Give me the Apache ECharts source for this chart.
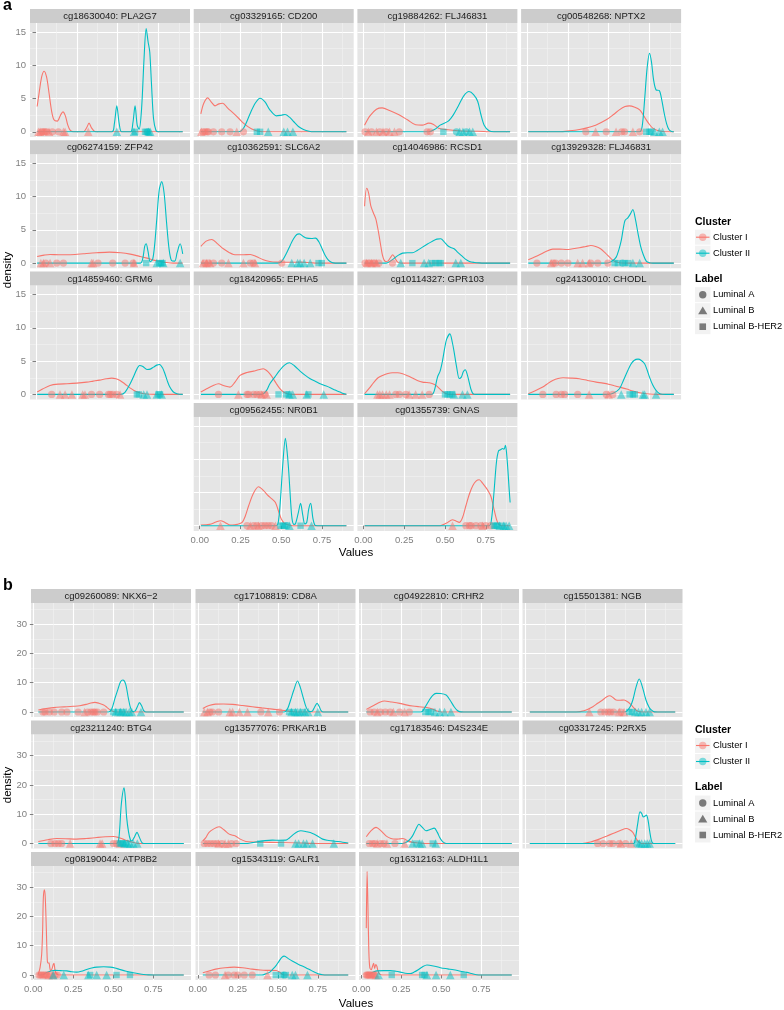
<!DOCTYPE html>
<html><head><meta charset="utf-8">
<script src="https://cdn.jsdelivr.net/npm/echarts@6/dist/echarts.min.js"></script>
<style>html,body{margin:0;padding:0;background:#fff}#c{width:784px;height:1010px}</style>
</head><body><div id="c"></div>
<script>
// ---------- DATA ----------
// shape codes: 0 = Luminal A (circle), 1 = Luminal B (triangle), 2 = Luminal B-HER2 (square)
const titlesA = ['cg18630040: PLA2G7','cg03329165: CD200','cg19884262: FLJ46831','cg00548268: NPTX2',
  'cg06274159: ZFP42','cg10362591: SLC6A2','cg14046986: RCSD1','cg13929328: FLJ46831',
  'cg14859460: GRM6','cg18420965: EPHA5','cg10114327: GPR103','cg24130010: CHODL',
  'cg09562455: NR0B1','cg01355739: GNAS'];
const titlesB = ['cg09260089: NKX6\u22122','cg17108819: CD8A','cg04922810: CRHR2','cg15501381: NGB',
  'cg23211240: BTG4','cg13577076: PRKAR1B','cg17183546: D4S234E','cg03317245: P2RX5',
  'cg08190044: ATP8B2','cg15343119: GALR1','cg16312163: ALDH1L1'];
const xTicks = [0, 0.25, 0.5, 0.75];
const xMinorTicks = [0.125, 0.375, 0.625, 0.875];
const yTicksA = [0, 5, 10, 15];
const yMinorTicksA = [2.5, 7.5, 12.5];
const yTicksB = [0, 10, 20, 30];
const yMinorTicksB = [5, 15, 25, 35];

const A01_I = [[0.007,3.8],[0.02,6],[0.035,8.3],[0.05,9.1],[0.065,8.2],[0.08,5.8],[0.095,3.2],[0.11,1.8],[0.13,1.6],[0.15,2.5],[0.165,3.0],[0.18,2.4],[0.195,1.0],[0.21,0.2],[0.23,0],[0.29,0],[0.31,0.6],[0.325,1.3],[0.34,0.6],[0.36,0.05],[0.38,0],[0.899,0]];
const A01_II = [[0.007,0],[0.465,0],[0.48,1.2],[0.495,3.9],[0.51,1.2],[0.525,0],[0.58,0],[0.594,1.4],[0.607,3.9],[0.62,1.0],[0.632,0.4],[0.647,3.5],[0.662,11],[0.675,15.5],[0.687,13.5],[0.697,12],[0.708,7],[0.72,2],[0.735,0.2],[0.75,0],[0.899,0]];
const A01_rugI = [[0.015,1],[0.025,1],[0.035,0],[0.045,0],[0.055,0],[0.065,0],[0.08,1],[0.1,0],[0.137,0],[0.168,1],[0.178,1],[0.32,1]];
const A01_rugII = [[0.495,1],[0.6,1],[0.607,2],[0.668,2],[0.678,2],[0.685,0],[0.69,1],[0.7,1]];

const A02_I = [[0.007,2.7],[0.025,4.3],[0.05,5.1],[0.07,4.5],[0.094,3.9],[0.118,4.2],[0.141,4.3],[0.17,3.6],[0.206,2.8],[0.24,2.0],[0.268,1.3],[0.3,0.7],[0.33,0.3],[0.37,0.05],[0.4,0],[0.899,0]];
const A02_II = [[0.007,0],[0.24,0],[0.27,0.6],[0.31,2.8],[0.34,4.3],[0.37,5.05],[0.4,4.5],[0.43,3.3],[0.47,2.4],[0.5,2.5],[0.523,2.6],[0.55,2.2],[0.575,1.55],[0.605,0.8],[0.636,0.35],[0.67,0.08],[0.7,0],[0.899,0]];
const A02_rugI = [[0.01,1],[0.02,0],[0.033,0],[0.045,0],[0.053,0],[0.084,0],[0.135,0],[0.186,0],[0.227,1],[0.268,0]];
const A02_rugII = [[0.35,2],[0.37,2],[0.42,1],[0.515,1],[0.538,1],[0.571,1]];

const A03_I = [[0.007,1.0],[0.04,2.4],[0.08,3.4],[0.115,3.6],[0.16,3.2],[0.218,2.55],[0.27,1.8],[0.32,1.05],[0.36,1.0],[0.40,1.3],[0.43,1.1],[0.46,0.55],[0.52,0.3],[0.6,0.12],[0.7,0.08],[0.8,0],[0.899,0]];
const A03_II = [[0.007,0],[0.40,0],[0.44,0.4],[0.47,1.0],[0.52,1.6],[0.55,2.5],[0.58,3.8],[0.615,5.4],[0.647,6.05],[0.675,5.6],[0.7,4.6],[0.72,2.6],[0.74,1.0],[0.77,0.15],[0.8,0],[0.899,0]];
const A03_rugI = [[0.01,0],[0.03,1],[0.05,0],[0.08,1],[0.1,0],[0.12,1],[0.14,0],[0.16,1],[0.19,1],[0.22,0],[0.39,0],[0.41,0]];
const A03_rugII = [[0.49,2],[0.57,0],[0.59,1],[0.61,1],[0.63,0],[0.65,1],[0.67,1]];

const A04_I = [[0.007,0],[0.2,0],[0.26,0.15],[0.32,0.35],[0.36,0.55],[0.42,1.0],[0.485,1.8],[0.53,2.6],[0.565,3.3],[0.6,3.8],[0.626,3.9],[0.66,3.7],[0.69,3.3],[0.71,2.6],[0.73,1.8],[0.75,1.1],[0.77,0.55],[0.8,0.2],[0.83,0.05],[0.86,0],[0.899,0]];
const A04_II = [[0.007,0],[0.69,0],[0.705,0.8],[0.72,4.8],[0.735,9.5],[0.75,11.8],[0.762,10.5],[0.775,7.8],[0.79,6.3],[0.81,6.2],[0.825,4.8],[0.84,2.8],[0.855,1.2],[0.87,0.3],[0.885,0.05],[0.899,0]];
const A04_rugI = [[0.36,0],[0.42,1],[0.485,0],[0.545,1],[0.58,0],[0.597,0],[0.648,1],[0.69,0]];
const A04_rugII = [[0.73,2],[0.75,2],[0.76,2],[0.78,1],[0.81,1],[0.83,1]];

const A05_I = [[0.007,1.0],[0.05,1.2],[0.086,1.3],[0.14,1.25],[0.19,1.25],[0.24,1.3],[0.29,1.4],[0.37,1.55],[0.45,1.65],[0.52,1.55],[0.577,1.35],[0.63,1.05],[0.68,0.75],[0.72,0.45],[0.76,0.25],[0.8,0.08],[0.84,0],[0.899,0]];
const A05_II = [[0.007,0],[0.64,0],[0.655,0.8],[0.666,2.5],[0.675,2.9],[0.686,1.8],[0.7,0.2],[0.715,0.6],[0.728,3.0],[0.74,6.6],[0.755,11],[0.77,12.25],[0.785,10.5],[0.8,6.1],[0.815,2.2],[0.83,0.4],[0.85,0.3],[0.865,1.6],[0.883,2.9],[0.899,1.4]];
const A05_rugI = [[0.03,1],[0.045,1],[0.06,0],[0.086,1],[0.127,0],[0.168,0],[0.34,1],[0.35,1],[0.38,0],[0.47,0],[0.546,0],[0.595,0],[0.6,1]];
const A05_rugII = [[0.675,2],[0.74,1],[0.755,2],[0.765,2],[0.775,2],[0.78,1],[0.883,1]];

const A06_I = [[0.007,2.5],[0.04,3.3],[0.074,3.55],[0.11,2.9],[0.145,2.15],[0.18,1.6],[0.207,1.3],[0.26,1.25],[0.31,1.3],[0.35,0.95],[0.39,0.5],[0.43,0.25],[0.47,0.15],[0.55,0.12],[0.62,0.15],[0.68,0.05],[0.72,0],[0.899,0]];
const A06_II = [[0.007,0],[0.48,0],[0.505,0.35],[0.53,1.4],[0.555,2.7],[0.575,3.65],[0.595,4.3],[0.61,4.4],[0.635,4.0],[0.656,3.75],[0.685,3.7],[0.71,3.75],[0.73,3.2],[0.75,2.15],[0.77,1.1],[0.79,0.4],[0.81,0.08],[0.83,0],[0.899,0]];
const A06_rugI = [[0.02,1],[0.03,0],[0.043,1],[0.053,0],[0.063,1],[0.084,0],[0.135,0],[0.176,1],[0.268,1],[0.31,0],[0.329,0],[0.339,1],[0.503,0]];
const A06_rugII = [[0.564,1],[0.6,1],[0.615,1],[0.64,1],[0.677,1],[0.728,2],[0.748,2]];

const A07_I = [[0.007,8.55],[0.02,11.25],[0.032,10.5],[0.045,8.65],[0.06,7.6],[0.076,6.65],[0.086,5.5],[0.096,4.15],[0.107,2.5],[0.117,1.15],[0.127,0.45],[0.137,0.25],[0.15,0.3],[0.165,0.8],[0.18,1.25],[0.195,0.7],[0.21,0.15],[0.23,0],[0.899,0]];
const A07_II = [[0.007,0],[0.14,0],[0.165,0.3],[0.19,0.75],[0.215,1.2],[0.24,1.5],[0.27,1.55],[0.3,1.55],[0.33,1.9],[0.362,2.4],[0.395,2.9],[0.423,3.3],[0.45,3.6],[0.474,3.65],[0.495,3.2],[0.515,2.65],[0.535,2.35],[0.556,2.15],[0.575,1.7],[0.6,1.15],[0.625,0.6],[0.65,0.25],[0.68,0.1],[0.71,0.03],[0.74,0],[0.899,0]];
const A07_rugI = [[0.01,0],[0.02,1],[0.03,0],[0.04,0],[0.05,1],[0.06,0],[0.07,0],[0.08,1],[0.095,0],[0.178,0]];
const A07_rugII = [[0.229,1],[0.3,2],[0.372,1],[0.4,1],[0.423,2],[0.44,2],[0.464,2],[0.474,2],[0.566,1],[0.597,1]];

const A08_I = [[0.007,0.5],[0.04,0.85],[0.076,1.25],[0.115,1.75],[0.157,2.1],[0.2,2.1],[0.24,2.05],[0.28,2.15],[0.32,2.3],[0.36,2.5],[0.39,2.65],[0.42,2.5],[0.45,2.15],[0.48,1.5],[0.505,0.9],[0.525,0.45],[0.546,0.15],[0.57,0.02],[0.6,0],[0.899,0]];
const A08_II = [[0.007,0],[0.49,0],[0.52,0.3],[0.546,0.9],[0.562,2.0],[0.577,3.4],[0.59,5.3],[0.6,6.4],[0.617,6.8],[0.633,7.4],[0.648,8.05],[0.662,6.8],[0.68,4.4],[0.695,2.6],[0.71,1.4],[0.73,0.3],[0.75,0.05],[0.77,0],[0.899,0]];
const A08_rugI = [[0.06,0],[0.147,1],[0.16,0],[0.174,0],[0.21,0],[0.25,0],[0.31,1],[0.34,1],[0.38,1],[0.39,0],[0.433,0],[0.495,0]];
const A08_rugII = [[0.536,2],[0.556,2],[0.585,0],[0.597,2],[0.62,2],[0.648,1],[0.69,1]];

const A09_I = [[0.007,0.35],[0.04,0.8],[0.086,1.35],[0.14,1.55],[0.19,1.6],[0.25,1.7],[0.31,1.85],[0.35,2.0],[0.39,2.15],[0.43,2.35],[0.464,2.45],[0.49,2.35],[0.515,2.1],[0.535,1.75],[0.556,1.35],[0.578,0.95],[0.6,0.6],[0.63,0.3],[0.66,0.1],[0.7,0.02],[0.74,0],[0.899,0]];
const A09_II = [[0.007,0],[0.52,0],[0.545,0.3],[0.577,1.6],[0.6,2.8],[0.618,3.8],[0.634,4.35],[0.655,4.2],[0.68,3.75],[0.7,3.8],[0.72,4.1],[0.74,4.4],[0.757,4.5],[0.775,4.0],[0.79,3.1],[0.805,2.0],[0.82,1.1],[0.84,0.4],[0.863,0.1],[0.88,0.02],[0.899,0]];
const A09_rugI = [[0.096,0],[0.147,1],[0.178,1],[0.22,1],[0.286,1],[0.3,1],[0.34,0],[0.39,0],[0.444,0],[0.455,0],[0.47,0],[0.495,0],[0.515,1]];
const A09_rugII = [[0.618,2],[0.63,2],[0.66,1],[0.68,1],[0.74,1],[0.75,2],[0.76,2],[0.77,1]];

const A10_I = [[0.007,0.35],[0.04,0.8],[0.08,1.3],[0.115,1.6],[0.15,1.3],[0.186,1.1],[0.215,1.8],[0.247,2.85],[0.29,3.3],[0.33,3.5],[0.36,3.7],[0.39,3.85],[0.41,3.6],[0.43,3.1],[0.45,2.4],[0.47,1.6],[0.49,0.9],[0.513,0.35],[0.54,0.08],[0.57,0],[0.899,0]];
const A10_II = [[0.007,0],[0.37,0],[0.39,0.1],[0.41,0.6],[0.43,1.6],[0.46,2.6],[0.49,3.6],[0.52,4.4],[0.55,4.75],[0.58,4.3],[0.615,3.5],[0.645,2.9],[0.677,2.35],[0.71,1.95],[0.738,1.6],[0.77,1.3],[0.8,1.0],[0.83,0.65],[0.86,0.35],[0.88,0.12],[0.899,0.03]];
const A10_rugI = [[0.115,0],[0.237,1],[0.29,0],[0.3,0],[0.33,0],[0.35,0],[0.37,0],[0.38,1],[0.4,0],[0.41,1]];
const A10_rugII = [[0.483,2],[0.53,2],[0.545,2],[0.55,1],[0.57,1],[0.656,1],[0.666,2],[0.76,1]];

const A11_I = [[0.007,0.1],[0.035,0.9],[0.065,1.85],[0.09,2.5],[0.117,2.85],[0.15,3.15],[0.178,3.25],[0.21,3.25],[0.24,3.1],[0.27,2.8],[0.3,2.45],[0.33,2.1],[0.362,1.85],[0.385,1.8],[0.403,1.75],[0.425,1.6],[0.444,1.35],[0.465,0.9],[0.485,0.45],[0.505,0.12],[0.525,0],[0.899,0]];
const A11_II = [[0.007,0],[0.42,0],[0.435,0.6],[0.454,2.6],[0.47,3.5],[0.485,5.1],[0.497,6.8],[0.51,8.3],[0.53,9.1],[0.545,7.8],[0.556,6.35],[0.572,4.0],[0.587,2.4],[0.6,2.6],[0.612,3.4],[0.624,3.7],[0.636,3.0],[0.648,1.85],[0.66,0.7],[0.672,0.1],[0.69,0],[0.899,0]];
const A11_rugI = [[0.086,1],[0.1,1],[0.117,1],[0.14,1],[0.16,1],[0.198,0],[0.22,0],[0.26,0],[0.28,1],[0.32,1],[0.36,1],[0.403,0]];
const A11_rugII = [[0.5,2],[0.515,2],[0.53,2],[0.545,2],[0.555,1],[0.607,1],[0.637,1]];

const A12_I = [[0.007,0.1],[0.05,0.55],[0.096,1.1],[0.13,1.7],[0.157,2.1],[0.19,2.4],[0.22,2.5],[0.27,2.45],[0.32,2.35],[0.37,2.1],[0.423,1.85],[0.465,1.7],[0.505,1.5],[0.535,1.3],[0.566,1.1],[0.61,0.8],[0.648,0.5],[0.69,0.25],[0.73,0.1],[0.77,0.02],[0.8,0],[0.899,0]];
const A12_II = [[0.007,0],[0.5,0],[0.53,0.2],[0.566,0.85],[0.59,2.1],[0.617,3.6],[0.635,4.5],[0.655,5.1],[0.68,5.3],[0.7,5.1],[0.72,4.6],[0.735,3.7],[0.75,2.6],[0.77,1.4],[0.79,0.6],[0.81,0.15],[0.83,0.02],[0.85,0],[0.899,0]];
const A12_rugI = [[0.096,0],[0.178,0],[0.21,0],[0.23,0],[0.31,0],[0.38,1],[0.485,0],[0.5,1],[0.525,0]];
const A12_rugII = [[0.577,1],[0.628,2],[0.648,2],[0.66,2],[0.71,1],[0.72,1],[0.79,1]];

const A13_I = [[0.007,0.1],[0.06,0.2],[0.1,0.55],[0.127,0.75],[0.155,0.5],[0.18,0.15],[0.2,0.1],[0.23,0.2],[0.26,0.5],[0.28,1.5],[0.3,3.0],[0.33,4.9],[0.36,5.85],[0.39,5.3],[0.42,4.5],[0.444,4.0],[0.464,3.5],[0.48,2.4],[0.5,1.0],[0.52,0.35],[0.546,0.1],[0.57,0],[0.899,0]];
const A13_II = [[0.007,0],[0.47,0],[0.484,1.0],[0.495,4.0],[0.51,9.5],[0.525,13.15],[0.536,11],[0.546,8],[0.556,4],[0.566,1.0],[0.578,0.2],[0.587,0.3],[0.603,1.8],[0.618,3.35],[0.632,1.5],[0.644,0.25],[0.656,0.5],[0.668,2.5],[0.68,3.35],[0.693,1.2],[0.705,0.1],[0.72,0],[0.899,0]];
const A13_rugI = [[0.127,1],[0.29,0],[0.31,1],[0.33,0],[0.35,0],[0.36,1],[0.38,0],[0.4,0],[0.42,0],[0.44,0],[0.464,1]];
const A13_rugII = [[0.495,2],[0.51,2],[0.52,2],[0.535,0],[0.55,1],[0.618,2],[0.685,1]];

const A14_I = [[0.007,0],[0.47,0],[0.51,0.4],[0.546,0.9],[0.567,0.7],[0.587,0.5],[0.607,1.2],[0.628,3.0],[0.65,4.8],[0.67,6.0],[0.69,6.7],[0.71,6.9],[0.73,6.4],[0.75,5.75],[0.765,5.2],[0.78,4.5],[0.79,3.6],[0.8,2.5],[0.815,1.0],[0.828,0.25],[0.845,0],[0.899,0]];
const A14_II = [[0.007,0],[0.77,0],[0.785,1.0],[0.8,5.0],[0.815,9.5],[0.828,11.25],[0.84,11.4],[0.853,11.6],[0.862,11.5],[0.87,12.1],[0.877,11],[0.885,8.5],[0.893,5.5],[0.899,3.5]];
const A14_rugI = [[0.546,1],[0.628,0],[0.65,0],[0.66,0],[0.69,0],[0.72,0],[0.73,1],[0.75,0],[0.78,0]];
const A14_rugII = [[0.8,2],[0.81,2],[0.82,2],[0.835,1],[0.85,2],[0.86,1],[0.875,1],[0.893,1]];

const B01_I = [[0.031,0.7],[0.08,1.2],[0.125,1.5],[0.17,1.7],[0.21,1.8],[0.25,1.95],[0.29,2.15],[0.33,2.6],[0.36,3.1],[0.385,3.3],[0.41,3.0],[0.44,2.4],[0.46,1.6],[0.48,0.7],[0.5,0.2],[0.52,0],[0.94,0]];
const B01_II = [[0.031,0],[0.47,0],[0.49,1.0],[0.51,4.65],[0.53,8.0],[0.545,10.3],[0.56,10.9],[0.577,9.5],[0.594,4.65],[0.607,1.5],[0.62,0.2],[0.635,0.3],[0.65,1.8],[0.663,3.2],[0.678,2.0],[0.69,0.5],[0.705,0],[0.94,0]];
const B01_rugI = [[0.06,0],[0.073,0],[0.1,0],[0.13,0],[0.177,0],[0.21,0],[0.28,0],[0.32,1],[0.34,0],[0.36,0],[0.375,0],[0.385,0],[0.4,0],[0.44,0]];
const B01_rugII = [[0.5,2],[0.515,1],[0.53,2],[0.545,1],[0.555,2],[0.565,1],[0.58,1],[0.6,1],[0.615,1],[0.673,1]];

const B02_I = [[0.031,1.2],[0.07,2.2],[0.11,2.7],[0.16,2.75],[0.217,2.6],[0.28,2.2],[0.34,1.8],[0.4,1.4],[0.467,1.0],[0.51,0.7],[0.55,0.45],[0.58,0.15],[0.61,0],[0.94,0]];
const B02_II = [[0.031,0],[0.54,0],[0.56,1.0],[0.58,4.1],[0.6,7.5],[0.623,10.6],[0.64,8.5],[0.66,4.65],[0.678,1.5],[0.696,0.2],[0.715,0.3],[0.73,1.7],[0.745,2.95],[0.758,2.0],[0.77,0.5],[0.785,0],[0.94,0]];
const B02_rugI = [[0.04,1],[0.06,1],[0.075,0],[0.09,0],[0.13,0],[0.2,1],[0.217,1],[0.26,1],[0.31,1],[0.394,0],[0.44,1],[0.51,0]];
const B02_rugII = [[0.57,2],[0.585,1],[0.6,2],[0.61,1],[0.625,1],[0.64,1],[0.655,2],[0.67,1],[0.69,1],[0.75,1]];

const B03_I = [[0.031,0.9],[0.08,2.3],[0.115,3.3],[0.144,3.75],[0.19,3.4],[0.24,2.95],[0.28,2.45],[0.32,2.05],[0.36,1.8],[0.4,1.6],[0.43,1.3],[0.45,0.9],[0.467,0.45],[0.49,0.1],[0.51,0],[0.94,0]];
const B03_II = [[0.031,0],[0.37,0],[0.383,0.3],[0.4,1.8],[0.425,4.1],[0.445,5.6],[0.467,6.35],[0.495,6.3],[0.53,5.8],[0.555,4.0],[0.58,1.8],[0.6,0.5],[0.62,0.05],[0.64,0],[0.94,0]];
const B03_rugI = [[0.055,0],[0.08,0],[0.1,1],[0.12,0],[0.15,0],[0.18,0],[0.2,1],[0.24,0],[0.27,1],[0.3,0]];
const B03_rugII = [[0.4,2],[0.42,2],[0.435,2],[0.46,1],[0.49,1],[0.52,1],[0.56,1]];

const B04_I = [[0.031,0],[0.32,0],[0.37,0.4],[0.425,1.8],[0.455,3.0],[0.486,4.1],[0.51,5.1],[0.53,5.55],[0.55,5.0],[0.57,4.1],[0.595,4.0],[0.62,4.1],[0.645,3.4],[0.665,2.4],[0.685,1.2],[0.7,0.45],[0.72,0.05],[0.74,0],[0.94,0]];
const B04_II = [[0.031,0],[0.62,0],[0.64,0.5],[0.66,2.0],[0.675,4.1],[0.695,8.5],[0.715,11.25],[0.735,8.5],[0.757,4.1],[0.775,1.8],[0.79,0.7],[0.81,0.05],[0.83,0],[0.94,0]];
const B04_rugI = [[0.403,1],[0.475,0],[0.5,0],[0.52,0],[0.535,0],[0.555,0],[0.59,1],[0.6,0],[0.62,1]];
const B04_rugII = [[0.653,2],[0.67,2],[0.69,1],[0.71,1],[0.73,1],[0.757,1],[0.78,1]];

const B05_I = [[0.031,0.7],[0.09,1.3],[0.146,1.7],[0.2,1.65],[0.27,1.5],[0.33,1.7],[0.396,2.05],[0.45,2.3],[0.5,2.4],[0.53,2.1],[0.56,1.5],[0.59,0.9],[0.625,0.35],[0.65,0.05],[0.67,0],[0.94,0]];
const B05_II = [[0.031,0],[0.52,0],[0.535,2],[0.55,13.5],[0.567,19.0],[0.575,15.5],[0.583,9.0],[0.595,4],[0.607,1.2],[0.615,0.9],[0.63,2.0],[0.648,3.8],[0.66,2.5],[0.677,0.45],[0.69,0],[0.94,0]];
const B05_rugI = [[0.11,0],[0.135,0],[0.156,0],[0.177,0],[0.23,1],[0.417,1],[0.43,1],[0.5,0],[0.52,0],[0.54,1]];
const B05_rugII = [[0.54,2],[0.55,2],[0.56,2],[0.57,1],[0.58,2],[0.59,1],[0.605,1],[0.625,1],[0.65,1]];

const B06_I = [[0.031,0.9],[0.05,2.0],[0.07,3.8],[0.1,5.0],[0.133,5.7],[0.165,4.6],[0.196,3.2],[0.22,2.8],[0.237,2.5],[0.265,1.5],[0.3,0.7],[0.35,0.5],[0.4,0.45],[0.5,0.35],[0.63,0.2],[0.7,0.05],[0.75,0],[0.94,0]];
const B06_II = [[0.031,0],[0.3,0],[0.34,0.3],[0.383,0.7],[0.42,1.0],[0.467,1.15],[0.51,1.1],[0.55,1.15],[0.57,1.8],[0.6,3.2],[0.625,4.1],[0.644,4.35],[0.68,4.0],[0.717,3.45],[0.75,2.5],[0.78,1.5],[0.81,1.1],[0.84,0.9],[0.87,0.7],[0.905,0.45],[0.94,0.15]];
const B06_rugI = [[0.04,0],[0.06,0],[0.08,0],[0.1,0],[0.12,0],[0.13,1],[0.15,0],[0.17,1],[0.19,1],[0.21,0],[0.24,0]];
const B06_rugII = [[0.39,2],[0.52,2],[0.61,1],[0.63,1],[0.66,1],[0.68,1],[0.717,1],[0.85,1]];

const B07_I = [[0.031,2.3],[0.06,4.3],[0.092,5.5],[0.12,4.5],[0.154,2.6],[0.185,1.7],[0.217,1.5],[0.24,1.6],[0.258,1.7],[0.275,1.4],[0.29,0.9],[0.32,0.4],[0.36,0.15],[0.4,0],[0.94,0]];
const B07_II = [[0.031,0],[0.26,0],[0.28,0.4],[0.3,1.2],[0.32,2.6],[0.34,4.8],[0.36,6.6],[0.38,5.6],[0.404,4.35],[0.43,4.8],[0.456,5.25],[0.475,3.8],[0.49,2.05],[0.505,0.8],[0.52,0.2],[0.54,0],[0.94,0]];
const B07_rugI = [[0.05,0],[0.07,0],[0.085,0],[0.1,1],[0.12,0],[0.14,0],[0.16,1],[0.21,0],[0.27,1]];
const B07_rugII = [[0.32,1],[0.345,2],[0.365,1],[0.38,1],[0.446,2],[0.465,1]];

const B08_I = [[0.031,0],[0.36,0],[0.41,0.5],[0.465,1.5],[0.51,2.5],[0.55,3.4],[0.6,4.5],[0.634,5.1],[0.655,4.7],[0.675,3.8],[0.69,2.3],[0.705,0.9],[0.72,0.2],[0.736,0],[0.94,0]];
const B08_II = [[0.031,0],[0.68,0],[0.69,1.5],[0.705,6.6],[0.72,10.8],[0.73,10.3],[0.74,9.1],[0.75,9.3],[0.76,9.7],[0.77,8],[0.78,4.3],[0.79,1.2],[0.8,0.1],[0.815,0],[0.94,0]];
const B08_rugI = [[0.455,0],[0.49,0],[0.53,0],[0.55,0],[0.59,0],[0.6,1],[0.63,0],[0.665,1]];
const B08_rugII = [[0.7,2],[0.715,1],[0.73,1],[0.75,1],[0.765,1],[0.78,1]];

const B09_I = [[0.031,0.2],[0.042,2.5],[0.052,7],[0.058,15],[0.0625,26.3],[0.069,29.1],[0.074,27],[0.08,18],[0.0875,4.8],[0.093,4.0],[0.098,4.2],[0.103,2.5],[0.108,1.4],[0.114,1.8],[0.119,2.5],[0.124,3.5],[0.129,4.0],[0.134,2.2],[0.14,0.8],[0.15,0.2],[0.167,0],[0.94,0]];
const B09_II = [[0.031,0],[0.06,0.1],[0.083,0.9],[0.11,1.4],[0.135,1.6],[0.17,1.5],[0.21,1.4],[0.24,1.1],[0.27,1.0],[0.3,1.3],[0.333,1.9],[0.365,2.4],[0.396,2.7],[0.44,2.8],[0.48,2.7],[0.51,2.4],[0.54,1.9],[0.58,1.3],[0.625,0.8],[0.66,0.45],[0.69,0.2],[0.72,0.05],[0.75,0],[0.94,0]];
const B09_rugI = [[0.035,0],[0.045,0],[0.055,0],[0.065,0],[0.075,0],[0.085,0],[0.095,1],[0.105,0],[0.12,1],[0.135,0],[0.15,0]];
const B09_rugII = [[0.125,1],[0.19,1],[0.344,1],[0.355,2],[0.396,1],[0.458,1],[0.52,2],[0.604,2]];

const B10_I = [[0.031,0.8],[0.07,1.4],[0.112,2.0],[0.17,2.5],[0.227,2.7],[0.28,2.5],[0.34,2.0],[0.39,1.7],[0.425,1.6],[0.46,1.6],[0.49,1.55],[0.51,1.0],[0.53,0.2],[0.55,0],[0.94,0]];
const B10_II = [[0.031,0],[0.4,0],[0.425,0.4],[0.45,1.0],[0.467,1.9],[0.49,3.3],[0.508,4.75],[0.525,6.0],[0.54,6.45],[0.565,5.6],[0.59,4.75],[0.63,3.6],[0.675,2.5],[0.71,1.5],[0.737,0.8],[0.76,0.3],[0.78,0.1],[0.8,0],[0.94,0]];
const B10_rugI = [[0.07,0],[0.11,0],[0.17,1],[0.19,0],[0.227,0],[0.25,0],[0.29,0],[0.34,0],[0.435,1]];
const B10_rugII = [[0.487,2],[0.52,2],[0.54,0],[0.55,2],[0.59,1],[0.61,1],[0.685,1]];

const B11_I = [[0.031,16],[0.036,35.4],[0.041,24],[0.047,8],[0.053,2.5],[0.062,1.8],[0.07,3.0],[0.077,4.0],[0.083,2.2],[0.09,3.6],[0.097,3.0],[0.105,1.2],[0.115,0.3],[0.13,0],[0.94,0]];
const B11_II = [[0.031,0],[0.045,0.3],[0.06,0.7],[0.098,1.4],[0.14,1.5],[0.18,1.5],[0.215,1.3],[0.244,1.0],[0.275,0.6],[0.306,0.5],[0.33,1.0],[0.358,1.9],[0.385,2.9],[0.41,3.4],[0.45,3.1],[0.494,2.5],[0.54,2.1],[0.577,1.8],[0.62,1.3],[0.66,0.9],[0.69,0.5],[0.72,0.1],[0.75,0],[0.94,0]];
const B11_rugI = [[0.031,0],[0.037,0],[0.044,0],[0.05,0],[0.057,0],[0.065,0],[0.075,0],[0.085,0],[0.09,1]];
const B11_rugII = [[0.108,1],[0.19,2],[0.38,2],[0.395,2],[0.41,1],[0.467,1],[0.556,1],[0.64,2]];

// ---------- LAYOUT ----------
const RED = '#F8766D', TEAL = '#00BFC4';
const FONT = '"Liberation Sans", Arial, sans-serif';
const PW = 160, PH = 114, SH = 14;
const colA = [30, 193.7, 357.4, 521.1], rowA = [9, 140.3, 271.6, 402.9];
const colB = [31, 195.5, 359, 522.5], rowB = [589, 720.5, 852];
const xRangeA = [-0.0368, 0.9436], xRangeB = [-0.0146, 0.9854];
const yRangeA = [-0.78, 16.35], yRangeB = [-1.7, 37.2];

const facets = [];
const curvesA = [[A01_I,A01_II,A01_rugI,A01_rugII],[A02_I,A02_II,A02_rugI,A02_rugII],[A03_I,A03_II,A03_rugI,A03_rugII],[A04_I,A04_II,A04_rugI,A04_rugII],
  [A05_I,A05_II,A05_rugI,A05_rugII],[A06_I,A06_II,A06_rugI,A06_rugII],[A07_I,A07_II,A07_rugI,A07_rugII],[A08_I,A08_II,A08_rugI,A08_rugII],
  [A09_I,A09_II,A09_rugI,A09_rugII],[A10_I,A10_II,A10_rugI,A10_rugII],[A11_I,A11_II,A11_rugI,A11_rugII],[A12_I,A12_II,A12_rugI,A12_rugII],
  [A13_I,A13_II,A13_rugI,A13_rugII],[A14_I,A14_II,A14_rugI,A14_rugII]];
const posA = [[0,0],[0,1],[0,2],[0,3],[1,0],[1,1],[1,2],[1,3],[2,0],[2,1],[2,2],[2,3],[3,1],[3,2]];
curvesA.forEach((c, i) => {
  const [r, k] = posA[i];
  facets.push({title: titlesA[i], left: colA[k], strip: rowA[r], I: c[0], II: c[1], rI: c[2], rII: c[3],
    xr: xRangeA, yr: yRangeA, yt: yTicksA, ym: yMinorTicksA, showY: k === 0, showX: r === 3});
});
const curvesB = [[B01_I,B01_II,B01_rugI,B01_rugII],[B02_I,B02_II,B02_rugI,B02_rugII],[B03_I,B03_II,B03_rugI,B03_rugII],[B04_I,B04_II,B04_rugI,B04_rugII],
  [B05_I,B05_II,B05_rugI,B05_rugII],[B06_I,B06_II,B06_rugI,B06_rugII],[B07_I,B07_II,B07_rugI,B07_rugII],[B08_I,B08_II,B08_rugI,B08_rugII],
  [B09_I,B09_II,B09_rugI,B09_rugII],[B10_I,B10_II,B10_rugI,B10_rugII],[B11_I,B11_II,B11_rugI,B11_rugII]];
const posB = [[0,0],[0,1],[0,2],[0,3],[1,0],[1,1],[1,2],[1,3],[2,0],[2,1],[2,2]];
curvesB.forEach((c, i) => {
  const [r, k] = posB[i];
  facets.push({title: titlesB[i], left: colB[k], strip: rowB[r], I: c[0], II: c[1], rI: c[2], rII: c[3],
    xr: xRangeB, yr: yRangeB, yt: yTicksB, ym: yMinorTicksB, showY: k === 0, showX: r === 2});
});

const SHAPES = ['circle', 'triangle', 'rect'];
const SIZES = [7.2, 8.5, 6.4];
const grids = [], xAxes = [], yAxes = [], series = [], graphics = [];

facets.forEach((f, gi) => {
  const top = f.strip + SH;
  grids.push({left: f.left, top: top, width: PW, height: PH, show: true, backgroundColor: '#E5E5E5',
    borderWidth: 0, containLabel: false, outerBoundsMode: 'none'});
  graphics.push({type: 'rect', silent: true, shape: {x: f.left, y: f.strip, width: PW, height: SH}, style: {fill: '#CCCCCC'}});
  graphics.push({type: 'text', silent: true, x: f.left + PW / 2, y: f.strip + SH / 2 + 0.5,
    style: {text: f.title, align: 'center', verticalAlign: 'middle', font: '9.5px ' + FONT, fill: '#1A1A1A'}});
  // minor axes (gridlines only)
  xAxes.push({type: 'value', gridIndex: gi, position: 'top', min: f.xr[0], max: f.xr[1], axisLine: {show: false},
    axisTick: {show: false, customValues: xMinorTicks}, axisLabel: {show: false, customValues: xMinorTicks},
    splitLine: {show: true, lineStyle: {color: '#F2F2F2', width: 0.6}}});
  yAxes.push({type: 'value', gridIndex: gi, position: 'right', min: f.yr[0], max: f.yr[1], axisLine: {show: false},
    axisTick: {show: false, customValues: f.ym}, axisLabel: {show: false, customValues: f.ym},
    splitLine: {show: true, lineStyle: {color: '#F2F2F2', width: 0.6}}});
  // major axes
  xAxes.push({type: 'value', gridIndex: gi, position: 'bottom', offset: 0, min: f.xr[0], max: f.xr[1], axisLine: {show: false},
    axisTick: {show: f.showX, length: 3.5, lineStyle: {color: '#7F7F7F', width: 1}, customValues: xTicks},
    axisLabel: {show: f.showX, customValues: xTicks, margin: 4, color: '#7F7F7F', fontSize: 9.5, fontFamily: FONT,
      formatter: v => v.toFixed(2)},
    splitLine: {show: true, lineStyle: {color: '#FFFFFF', width: 1.1}}});
  yAxes.push({type: 'value', gridIndex: gi, position: 'left', offset: 0, min: f.yr[0], max: f.yr[1], axisLine: {show: false},
    axisTick: {show: f.showY, length: 3.5, lineStyle: {color: '#7F7F7F', width: 1}, customValues: f.yt},
    axisLabel: {show: f.showY, customValues: f.yt, margin: 4, color: '#7F7F7F', fontSize: 9.5, fontFamily: FONT,
      formatter: v => String(v)},
    splitLine: {show: true, lineStyle: {color: '#FFFFFF', width: 1.1}}});
  const xi = xAxes.length - 1, yi = yAxes.length - 1;
  const line = (d, col, z) => ({type: 'line', xAxisIndex: xi, yAxisIndex: yi, data: d, showSymbol: false, symbol: 'none',
    smooth: 0.3, lineStyle: {color: col, width: 1.1}, itemStyle: {color: col}, silent: true, z: z});
  const rug = (d, col, z) => ({type: 'scatter', xAxisIndex: xi, yAxisIndex: yi, silent: true, z: z,
    data: d.map(p => ({value: [p[0], 0], symbol: SHAPES[p[1]], symbolSize: SIZES[p[1]]})),
    itemStyle: {color: col, opacity: 0.5}});
  series.push(line(f.I, RED, 3), line(f.II, TEAL, 4), rug(f.rI, RED, 5), rug(f.rII, TEAL, 6));
});

// panel letters, axis titles
graphics.push({type: 'text', x: 3, y: 6, style: {text: 'a', font: 'bold 16px ' + FONT, fill: '#000', verticalAlign: 'middle'}});
graphics.push({type: 'text', x: 3, y: 586, style: {text: 'b', font: 'bold 16px ' + FONT, fill: '#000', verticalAlign: 'middle'}});
[[270], [785]].forEach(([cy]) => graphics.push({type: 'text', x: 7.5, y: cy, rotation: Math.PI / 2,
  style: {text: 'density', align: 'center', verticalAlign: 'middle', font: '11.5px ' + FONT, fill: '#000'}}));
[[553], [1004]].forEach(([cy]) => graphics.push({type: 'text', x: 356, y: cy,
  style: {text: 'Values', align: 'center', verticalAlign: 'middle', font: '11.5px ' + FONT, fill: '#000'}}));

// legends
function legendBlock(t0) {
  const lx = 695, tx = 713;
  graphics.push({type: 'text', x: lx, y: t0, style: {text: 'Cluster', font: 'bold 10.5px ' + FONT, fill: '#000', verticalAlign: 'middle'}});
  [['Cluster I', RED], ['Cluster II', TEAL]].forEach(([name, col], i) => {
    const cy = t0 + 15.5 + i * 16;
    graphics.push({type: 'rect', shape: {x: lx, y: cy - 7.5, width: 15.5, height: 15}, style: {fill: '#F2F2F2'}});
    graphics.push({type: 'line', shape: {x1: lx + 1, y1: cy, x2: lx + 14.5, y2: cy}, style: {stroke: col, lineWidth: 1.1}});
    graphics.push({type: 'circle', shape: {cx: lx + 7.75, cy: cy, r: 3.7}, style: {fill: col, opacity: 0.5}});
    graphics.push({type: 'text', x: tx, y: cy, style: {text: name, font: '9.3px ' + FONT, fill: '#000', verticalAlign: 'middle'}});
  });
  const l0 = t0 + 57.5;
  graphics.push({type: 'text', x: lx, y: l0, style: {text: 'Label', font: 'bold 10.5px ' + FONT, fill: '#000', verticalAlign: 'middle'}});
  ['Luminal A', 'Luminal B', 'Luminal B-HER2'].forEach((name, i) => {
    const cy = l0 + 15.5 + i * 16, cx = lx + 7.75;
    graphics.push({type: 'rect', shape: {x: lx, y: cy - 7.5, width: 15.5, height: 15}, style: {fill: '#F2F2F2'}});
    const st = {fill: 'rgba(0,0,0,0.5)'};
    if (i === 0) graphics.push({type: 'circle', shape: {cx: cx, cy: cy, r: 3.7}, style: st});
    if (i === 1) graphics.push({type: 'polygon', shape: {points: [[cx, cy - 4.2], [cx + 4.6, cy + 3.6], [cx - 4.6, cy + 3.6]]}, style: st});
    if (i === 2) graphics.push({type: 'rect', shape: {x: cx - 3.3, y: cy - 3.3, width: 6.6, height: 6.6}, style: st});
    graphics.push({type: 'text', x: tx, y: cy, style: {text: name, font: '9.3px ' + FONT, fill: '#000', verticalAlign: 'middle'}});
  });
}
legendBlock(221.7);
legendBlock(730);

const chart = echarts.init(document.getElementById('c'), null, {renderer: 'canvas'});
chart.setOption({
  animation: false,
  backgroundColor: '#FFFFFF',
  grid: grids, xAxis: xAxes, yAxis: yAxes, series: series,
  graphic: {elements: graphics}
});
</script>
</body></html>
